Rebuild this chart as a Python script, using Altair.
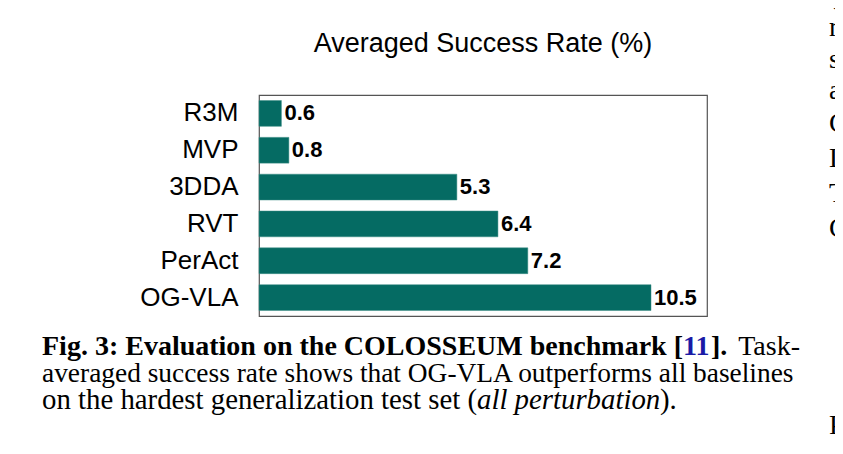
import altair as alt
import pandas as pd

methods = ["R3M", "MVP", "3DDA", "RVT", "PerAct", "OG-VLA"]
rates = [0.6, 0.8, 5.3, 6.4, 7.2, 10.5]
labels = ["0.6", "0.8", "5.3", "6.4", "7.2", "10.5"]

chart_title = "Averaged Success Rate (%)"

# caption segments
cap_text = [
    "Fig. 3: Evaluation on the COLOSSEUM benchmark [",
    "11",
    "].",
    "Task-",
    "averaged success rate shows that OG-VLA outperforms all baselines",
    "on the hardest generalization test set (",
    "all perturbation",
    ").",
]
cap_x = [42, 683, 711, 800, 42, 42, 477, 660]
cap_align = ["left", "left", "left", "right", "left", "left", "left", "left"]
cap_y = [355, 355, 355, 355, 382, 409, 409, 409]
cap_size = [28, 28, 28, 28, 27.4, 28.8, 28.8, 28.8]
cap_weight = ["bold", "bold", "bold", "normal", "normal", "normal", "normal", "normal"]
cap_style = ["normal", "normal", "normal", "normal", "normal", "normal", "italic", "normal"]
cap_color = ["black", "#1a1aa6", "black", "black", "black", "black", "black", "black"]

side_text = ["(", "r", "s", "a", "C", "L", "T", "C", "P"]
side_y = [5, 36, 68, 99, 132, 167, 202, 237, 434]

X0, Y0 = 259, 95
W, H = 448, 221

df = pd.DataFrame({"method": methods, "rate": rates, "label": labels})

y_enc = alt.Y("method:N", sort=methods,
              scale=alt.Scale(paddingInner=0.3, paddingOuter=0.15),
              axis=alt.Axis(title=None, ticks=False, domain=False,
                            labelFontSize=26, labelColor="black",
                            labelFont="Liberation Sans", labelPadding=21))
x_enc = alt.X("rate:Q", scale=alt.Scale(domain=[0, 12], nice=False), axis=None)

bars = alt.Chart(df).mark_bar(color="#056b63", stroke="#3d8c85", strokeWidth=0.5).encode(
    x=x_enc, y=y_enc)
vals = alt.Chart(df).mark_text(align="left", dx=3, fontSize=22, fontWeight="bold",
                               font="Liberation Sans", color="black").encode(
    x=x_enc, y=y_enc, text="label:N")

layers = [bars, vals]

title_df = pd.DataFrame({"t": [chart_title]})
layers.append(alt.Chart(title_df).mark_text(align="center", baseline="alphabetic",
                                            fontSize=27, font="Liberation Sans",
                                            color="black").encode(
    x=alt.value(W / 2), y=alt.value(52 - Y0), text="t:N"))

for t, x, a, y, fs, w, s, c in zip(cap_text, cap_x, cap_align, cap_y, cap_size,
                                   cap_weight, cap_style, cap_color):
    d = pd.DataFrame({"t": [t]})
    layers.append(alt.Chart(d).mark_text(align=a, baseline="alphabetic",
                                         fontSize=fs, font="Liberation Serif",
                                         fontWeight=w, fontStyle=s, color=c).encode(
        x=alt.value(x - X0), y=alt.value(y - Y0), text="t:N"))

for t, y in zip(side_text, side_y):
    d = pd.DataFrame({"t": [t]})
    layers.append(alt.Chart(d).mark_text(align="left", baseline="alphabetic",
                                         fontSize=28, font="Liberation Serif",
                                         color="black").encode(
        x=alt.value(829 - X0), y=alt.value(y - Y0), text="t:N"))

chart = alt.layer(*layers).properties(
    width=W, height=H,
    autosize=alt.AutoSizeParams(type="none"),
    padding={"left": X0 - 8, "top": Y0 - 8, "right": 128, "bottom": 118},
    background="white",
).configure_view(stroke="#555555", strokeWidth=1.2)

chart.save("out.html", embed_options={"renderer": "svg", "actions": False})
